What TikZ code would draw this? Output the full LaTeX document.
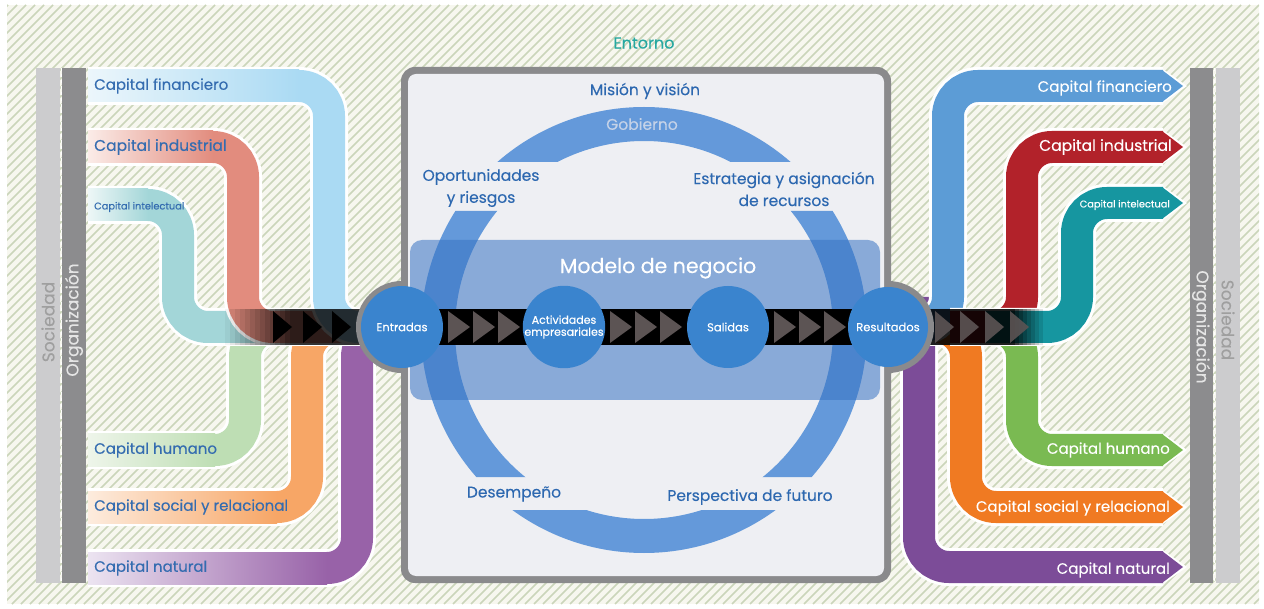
\documentclass[tikz,border=0pt]{standalone}
\usepackage{fontspec}
\setmainfont{Poppins}[FakeBold=0.25]
\usetikzlibrary{calc}
\definecolor{bgcream}{RGB}{247,247,239}
\definecolor{hatchcol}{RGB}{203,213,186}
\definecolor{barlight}{RGB}{204,204,206}
\definecolor{bardark}{RGB}{140,140,142}
\definecolor{lbltxt}{RGB}{52,108,176}
\definecolor{ctxt}{RGB}{45,104,176}
\definecolor{entornocol}{RGB}{38,168,160}
\definecolor{boxgray}{RGB}{138,138,140}
\definecolor{boxfill}{RGB}{238,239,243}
\definecolor{ringblue}{RGB}{100,153,218}
\definecolor{modelblue}{RGB}{55,115,195}
\definecolor{circblue}{RGB}{58,132,206}
\definecolor{gobcol}{RGB}{196,210,232}
\definecolor{trigray}{RGB}{92,84,84}
% left band colours
\definecolor{lfin}{RGB}{170,218,243}\definecolor{lfinp}{RGB}{236,246,251}
\definecolor{lind}{RGB}{226,140,126}\definecolor{lindp}{RGB}{251,236,232}
\definecolor{lint}{RGB}{163,214,216}\definecolor{lintp}{RGB}{238,247,247}
\definecolor{lhum}{RGB}{190,222,180}\definecolor{lhump}{RGB}{238,245,234}
\definecolor{lsoc}{RGB}{247,166,102}\definecolor{lsocp}{RGB}{253,236,222}
\definecolor{lnat}{RGB}{152,98,168}\definecolor{lnatp}{RGB}{236,228,241}
% right band colours
\definecolor{rfin}{RGB}{92,156,214}
\definecolor{rind}{RGB}{178,34,42}
\definecolor{rint}{RGB}{22,150,160}
\definecolor{rhum}{RGB}{122,186,82}
\definecolor{rsoc}{RGB}{240,122,34}
\definecolor{rnat}{RGB}{124,76,152}

\newcommand\LeftBand[4]{% color, pale, y, xv
  \draw[halo] (88,#3) -- (#4,#3) -- (#4,327) -- (365,327);
  \draw[band,#1] (88,#3) -- (#4,#3) -- (#4,327) -- (365,327);
  \shade[left color=#2,right color=#1] (88,{#3-16}) rectangle ({#4-30},{#3+16});
}
\newcommand\RightBand[4]{% color, startx, xv, y
  \draw[halo] (#2,327) -- (#3,327) -- (#3,#4) -- (1163,#4);
  \fill[white] (1160,{#4-19}) -- (1187,#4) -- (1160,{#4+19}) -- cycle;
  \draw[band,#1] (#2,327) -- (#3,327) -- (#3,#4) -- (1163,#4);
  \fill[#1] (1162,{#4-16}) -- (1183,#4) -- (1162,{#4+16}) -- cycle;
}

\begin{document}
\begin{tikzpicture}[x=1pt,y=-1pt,
  halo/.style={line width=38pt,white,rounded corners=30pt},
  band/.style={line width=32pt,rounded corners=30pt},
  hatch/.style={hatchcol,line width=1.6pt},
  lbl/.style={font=\fontsize{15}{17}\selectfont,text=lbltxt,anchor=west,inner sep=0pt},
  rlbl/.style={font=\fontsize{15}{17}\selectfont,text=white,anchor=east,inner sep=0pt},
  ctext/.style={font=\fontsize{15.5}{22}\selectfont,text=ctxt,align=center,inner sep=0pt},
  bartext/.style={font=\fontsize{17}{19}\selectfont,inner sep=0pt},
  circ/.style={circle,fill=circblue,minimum size=82pt,inner sep=0pt,text=white,
    font=\fontsize{11.5}{12.5}\selectfont,align=center},
  strip/.style={line width=36pt,black},
  tri/.style={fill=trigray}
]
\useasboundingbox (0,0) rectangle (1264,609);
\fill[white] (0,0) rectangle (1264,609);
% hatched background
\begin{scope}
\clip (7,5) rectangle (1259,604);
\fill[bgcream] (7,5) rectangle (1259,604);
\foreach \s in {-600,-591,...,1260} \draw[hatch] (\s,604) -- ({\s+599},5);
\end{scope}

% side bars
\fill[barlight] (36,68) rectangle (60,583);
\fill[bardark] (62,68) rectangle (86,583);
\draw[white,line width=1pt,dashed] (61,68) -- (61,583);
\node[bartext,text=gray!75,rotate=90] (socl) at (48,322) {Sociedad};
\node[bartext,text=white!80!gray,rotate=90] (orgl) at (74,320) {Organización};
\fill[bardark] (1190,68) rectangle (1213,583);
\fill[barlight] (1216,68) rectangle (1240,583);
\draw[white,line width=1pt,dashed] (1214.5,68) -- (1214.5,583);
\node[bartext,text=white!80!gray,rotate=-90] (orgr) at (1201,327) {Organización};
\node[bartext,text=gray!75,rotate=-90] (socr) at (1228,320) {Sociedad};

% centres of the flow circles
\path (402,327) coordinate (entc) (564,327) coordinate (actc)
      (728,327) coordinate (salc) (888,327) coordinate (resc);

% left bands
\LeftBand{lnat}{lnatp}{568}{357}
\LeftBand{lsoc}{lsocp}{507}{307}
\LeftBand{lhum}{lhump}{450}{245}
\LeftBand{lint}{lintp}{205}{178}
\LeftBand{lind}{lindp}{147}{243}
\LeftBand{lfin}{lfinp}{86}{329}

% left strip with fade
\coordinate (lstart) at (225,327);
\foreach \i in {0,...,12} \fill[black,opacity={0.06*\i+0.04}] ({225+5*\i},309) rectangle ({230+5*\i},345);
\fill[black,opacity=0.8] (290,309) rectangle (362,345);
\foreach \x in {273,303,332} \fill[black] (\x,311) -- ({\x+19},327) -- (\x,343) -- cycle;

% right bands
\RightBand{rnat}{919}{919}{567}
\RightBand{rsoc}{930}{966}{507}
\RightBand{rhum}{985}{1022}{450}
\RightBand{rfin}{905}{948}{86}
\RightBand{rind}{950}{1022}{147}
\RightBand{rint}{985}{1077}{203}

% right strip with fade
\coordinate (rfade) at (1015,327);
\fill[black,opacity=0.88] (900,309) rectangle (1015,345);
\foreach \i in {0,...,7} \fill[black,opacity={0.88-0.11*(\i+1)}] ({1015+4*\i},309) rectangle ({1019+4*\i},345);
\foreach \x in {935,960,985,1010} \fill[trigray,opacity=0.9] (\x,311) -- ({\x+19},327) -- (\x,343) -- cycle;

% central box
\fill[boxgray,rounded corners=14pt] (401,67) rectangle (891,583);
\fill[boxgray] (entc) circle[radius=46];
\fill[boxgray] (resc) circle[radius=46];
\fill[boxfill,rounded corners=8pt] (408,74) rectangle (884,576);

% ring, cut into four arcs
\begin{scope}
\clip (400,90) rectangle (890,162) (400,211) rectangle (890,477) (400,510) rectangle (890,570);
\draw[ringblue,line width=34pt] (644,330) circle[radius=206];
\end{scope}
\node[font=\fontsize{15.5}{17}\selectfont,text=gobcol,inner sep=0pt] (gob) at (642,124) {Gobierno};

% business model box
\fill[modelblue,opacity=0.55,rounded corners=12pt] (410,240) rectangle (880,400);
\node[font=\fontsize{20.5}{23}\selectfont,text=white,inner sep=0pt] (modelo) at (658,268) {Modelo de negocio};

% central flow
\draw[strip] (entc) -- (actc);
\draw[strip] (actc) -- (salc);
\draw[strip] (salc) -- (resc);
\foreach \x in {448,473,498, 610,635,660, 774,799,824}
  \fill[tri] (\x,311) -- ({\x+22},327) -- (\x,343) -- cycle;

\node[circ] (ent) at (entc) {Entradas};
\node[circ,font=\fontsize{11}{12}\selectfont] (act) at (actc) {Actividades\\empresariales};
\node[circ] (sal) at (salc) {Salidas};
\node[circ,minimum size=80pt] (res) at (resc) {Resultados};

% central labels
\node[font=\fontsize{16}{18}\selectfont,text=entornocol,inner sep=0pt] (entorno) at (644,43) {Entorno};
\node[ctext] (mision) at (645,91) {Misión y visión};
\node[ctext] (oport) at (481,188) {Oportunidades\\y riesgos};
\node[ctext] (estra) at (784,189) {Estrategia y asignación\\de recursos};
\node[ctext] (desem) at (514,494) {Desempeño};
\node[ctext] (persp) at (750,497) {Perspectiva de futuro};

% left labels
\node[lbl] (lf) at (94,86) {Capital financiero};
\node[lbl,font=\fontsize{15.5}{17}\selectfont] (li) at (94,147) {Capital industrial};
\node[lbl,font=\fontsize{9.8}{11}\selectfont] (lt) at (94,207) {Capital intelectual};
\node[lbl] (lh) at (94,450) {Capital humano};
\node[lbl] (ls) at (94,507) {Capital social y relacional};
\node[lbl] (ln) at (94,568) {Capital natural};

% right labels
\node[rlbl] (rf) at (1172,88) {Capital financiero};
\node[rlbl,font=\fontsize{15.5}{17}\selectfont] (ri) at (1172,147) {Capital industrial};
\node[rlbl,font=\fontsize{9.8}{11}\selectfont] (rt) at (1170,205) {Capital intelectual};
\node[rlbl] (rh) at (1170,450) {Capital humano};
\node[rlbl] (rs) at (1170,508) {Capital social y relacional};
\node[rlbl] (rn) at (1170,570) {Capital natural};
\end{tikzpicture}
\end{document}
